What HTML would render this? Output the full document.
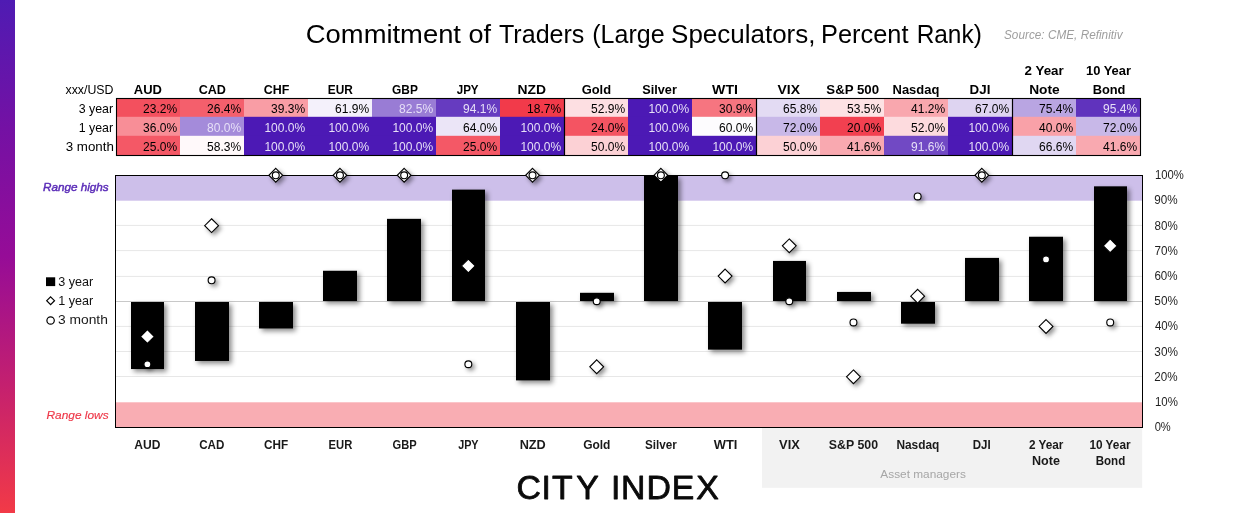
<!DOCTYPE html>
<html lang="en"><head><meta charset="utf-8"><title>Commitment of Traders (Large Speculators, Percent Rank)</title>
<style>html,body{margin:0;padding:0;background:#fff}body{width:1240px;height:513px;overflow:hidden}svg{display:block}text{font-family:"Liberation Sans", sans-serif}</style>
</head><body>
<svg width="1240" height="513" viewBox="0 0 1240 513">
<defs>
<linearGradient id="lg" x1="0" y1="0" x2="0" y2="1"><stop offset="0" stop-color="#4f1bb3"/><stop offset="0.25" stop-color="#7411a4"/><stop offset="0.5" stop-color="#960c97"/><stop offset="0.75" stop-color="#c4206f"/><stop offset="1" stop-color="#f23a47"/></linearGradient>
<filter id="sh" x="-30%" y="-30%" width="170%" height="170%"><feDropShadow dx="2.7" dy="2.7" stdDeviation="2.5" flood-color="#000" flood-opacity="0.46"/></filter>
<filter id="shm" x="-50%" y="-50%" width="220%" height="220%"><feDropShadow dx="2.5" dy="2.5" stdDeviation="2.1" flood-color="#000" flood-opacity="0.42"/></filter>
</defs>
<rect x="0" y="0" width="1240" height="513" fill="#fff"/>
<rect x="0" y="0" width="15" height="513" fill="url(#lg)"/>
<rect x="116.00" y="98.50" width="64.00" height="18.90" fill="#f3505e"/>
<rect x="180.00" y="98.50" width="64.00" height="18.90" fill="#f45f6c"/>
<rect x="244.00" y="98.50" width="64.00" height="18.90" fill="#f99da5"/>
<rect x="308.00" y="98.50" width="64.00" height="18.90" fill="#f4f1fb"/>
<rect x="372.00" y="98.50" width="64.00" height="18.90" fill="#997cd5"/>
<rect x="436.00" y="98.50" width="64.00" height="18.90" fill="#663bc0"/>
<rect x="500.00" y="98.50" width="64.00" height="18.90" fill="#f23a4a"/>
<rect x="564.00" y="98.50" width="64.00" height="18.90" fill="#fddfe2"/>
<rect x="628.00" y="98.50" width="64.00" height="18.90" fill="#4c19b5"/>
<rect x="692.00" y="98.50" width="64.00" height="18.90" fill="#f67580"/>
<rect x="756.00" y="98.50" width="64.00" height="18.90" fill="#e3dbf3"/>
<rect x="820.00" y="98.50" width="64.00" height="18.90" fill="#fde2e4"/>
<rect x="884.00" y="98.50" width="64.00" height="18.90" fill="#f9a7ae"/>
<rect x="948.00" y="98.50" width="64.00" height="18.90" fill="#ded4f1"/>
<rect x="1012.00" y="98.50" width="64.00" height="18.90" fill="#b9a5e2"/>
<rect x="1076.00" y="98.50" width="64.00" height="18.90" fill="#6033bd"/>
<rect x="116.00" y="116.80" width="64.00" height="19.60" fill="#f88e97"/>
<rect x="180.00" y="116.80" width="64.00" height="19.60" fill="#a48bda"/>
<rect x="244.00" y="116.80" width="64.00" height="19.60" fill="#4c19b5"/>
<rect x="308.00" y="116.80" width="64.00" height="19.60" fill="#4c19b5"/>
<rect x="372.00" y="116.80" width="64.00" height="19.60" fill="#4c19b5"/>
<rect x="436.00" y="116.80" width="64.00" height="19.60" fill="#ebe5f7"/>
<rect x="500.00" y="116.80" width="64.00" height="19.60" fill="#4c19b5"/>
<rect x="564.00" y="116.80" width="64.00" height="19.60" fill="#f45462"/>
<rect x="628.00" y="116.80" width="64.00" height="19.60" fill="#4c19b5"/>
<rect x="692.00" y="116.80" width="64.00" height="19.60" fill="#fdfcfe"/>
<rect x="756.00" y="116.80" width="64.00" height="19.60" fill="#c8b8e8"/>
<rect x="820.00" y="116.80" width="64.00" height="19.60" fill="#f24050"/>
<rect x="884.00" y="116.80" width="64.00" height="19.60" fill="#fddbde"/>
<rect x="948.00" y="116.80" width="64.00" height="19.60" fill="#4c19b5"/>
<rect x="1012.00" y="116.80" width="64.00" height="19.60" fill="#f9a1a8"/>
<rect x="1076.00" y="116.80" width="64.00" height="19.60" fill="#c8b8e8"/>
<rect x="116.00" y="135.80" width="64.00" height="19.70" fill="#f45866"/>
<rect x="180.00" y="135.80" width="64.00" height="19.70" fill="#fff9fa"/>
<rect x="244.00" y="135.80" width="64.00" height="19.70" fill="#4c19b5"/>
<rect x="308.00" y="135.80" width="64.00" height="19.70" fill="#4c19b5"/>
<rect x="372.00" y="135.80" width="64.00" height="19.70" fill="#4c19b5"/>
<rect x="436.00" y="135.80" width="64.00" height="19.70" fill="#f45866"/>
<rect x="500.00" y="135.80" width="64.00" height="19.70" fill="#4c19b5"/>
<rect x="564.00" y="135.80" width="64.00" height="19.70" fill="#fcd1d5"/>
<rect x="628.00" y="135.80" width="64.00" height="19.70" fill="#4c19b5"/>
<rect x="692.00" y="135.80" width="64.00" height="19.70" fill="#4c19b5"/>
<rect x="756.00" y="135.80" width="64.00" height="19.70" fill="#fcd1d5"/>
<rect x="820.00" y="135.80" width="64.00" height="19.70" fill="#f9a9b0"/>
<rect x="884.00" y="135.80" width="64.00" height="19.70" fill="#7149c4"/>
<rect x="948.00" y="135.80" width="64.00" height="19.70" fill="#4c19b5"/>
<rect x="1012.00" y="135.80" width="64.00" height="19.70" fill="#e0d7f2"/>
<rect x="1076.00" y="135.80" width="64.00" height="19.70" fill="#f9a9b0"/>
<rect x="116.50" y="98.50" width="1024.00" height="57.00" fill="none" stroke="#000" stroke-width="1.1"/>
<line x1="564.50" y1="98.50" x2="564.50" y2="155.50" stroke="#000" stroke-width="1.2"/>
<line x1="756.50" y1="98.50" x2="756.50" y2="155.50" stroke="#000" stroke-width="1.2"/>
<line x1="1012.50" y1="98.50" x2="1012.50" y2="155.50" stroke="#000" stroke-width="1.2"/>
<text x="177.10" y="112.6" font-size="12" text-anchor="end" fill="#000">23.2%</text>
<text x="241.10" y="112.6" font-size="12" text-anchor="end" fill="#000">26.4%</text>
<text x="305.10" y="112.6" font-size="12" text-anchor="end" fill="#000">39.3%</text>
<text x="369.10" y="112.6" font-size="12" text-anchor="end" fill="#000">61.9%</text>
<text x="433.10" y="112.6" font-size="12" text-anchor="end" fill="#e6dff7">82.5%</text>
<text x="497.10" y="112.6" font-size="12" text-anchor="end" fill="#e6dff7">94.1%</text>
<text x="561.10" y="112.6" font-size="12" text-anchor="end" fill="#000">18.7%</text>
<text x="625.10" y="112.6" font-size="12" text-anchor="end" fill="#000">52.9%</text>
<text x="689.10" y="112.6" font-size="12" text-anchor="end" fill="#e6dff7">100.0%</text>
<text x="753.10" y="112.6" font-size="12" text-anchor="end" fill="#000">30.9%</text>
<text x="817.10" y="112.6" font-size="12" text-anchor="end" fill="#000">65.8%</text>
<text x="881.10" y="112.6" font-size="12" text-anchor="end" fill="#000">53.5%</text>
<text x="945.10" y="112.6" font-size="12" text-anchor="end" fill="#000">41.2%</text>
<text x="1009.10" y="112.6" font-size="12" text-anchor="end" fill="#000">67.0%</text>
<text x="1073.10" y="112.6" font-size="12" text-anchor="end" fill="#000">75.4%</text>
<text x="1137.10" y="112.6" font-size="12" text-anchor="end" fill="#e6dff7">95.4%</text>
<text x="177.10" y="131.5" font-size="12" text-anchor="end" fill="#000">36.0%</text>
<text x="241.10" y="131.5" font-size="12" text-anchor="end" fill="#e6dff7">80.0%</text>
<text x="305.10" y="131.5" font-size="12" text-anchor="end" fill="#e6dff7">100.0%</text>
<text x="369.10" y="131.5" font-size="12" text-anchor="end" fill="#e6dff7">100.0%</text>
<text x="433.10" y="131.5" font-size="12" text-anchor="end" fill="#e6dff7">100.0%</text>
<text x="497.10" y="131.5" font-size="12" text-anchor="end" fill="#000">64.0%</text>
<text x="561.10" y="131.5" font-size="12" text-anchor="end" fill="#e6dff7">100.0%</text>
<text x="625.10" y="131.5" font-size="12" text-anchor="end" fill="#000">24.0%</text>
<text x="689.10" y="131.5" font-size="12" text-anchor="end" fill="#e6dff7">100.0%</text>
<text x="753.10" y="131.5" font-size="12" text-anchor="end" fill="#000">60.0%</text>
<text x="817.10" y="131.5" font-size="12" text-anchor="end" fill="#000">72.0%</text>
<text x="881.10" y="131.5" font-size="12" text-anchor="end" fill="#000">20.0%</text>
<text x="945.10" y="131.5" font-size="12" text-anchor="end" fill="#000">52.0%</text>
<text x="1009.10" y="131.5" font-size="12" text-anchor="end" fill="#e6dff7">100.0%</text>
<text x="1073.10" y="131.5" font-size="12" text-anchor="end" fill="#000">40.0%</text>
<text x="1137.10" y="131.5" font-size="12" text-anchor="end" fill="#000">72.0%</text>
<text x="177.10" y="150.5" font-size="12" text-anchor="end" fill="#000">25.0%</text>
<text x="241.10" y="150.5" font-size="12" text-anchor="end" fill="#000">58.3%</text>
<text x="305.10" y="150.5" font-size="12" text-anchor="end" fill="#e6dff7">100.0%</text>
<text x="369.10" y="150.5" font-size="12" text-anchor="end" fill="#e6dff7">100.0%</text>
<text x="433.10" y="150.5" font-size="12" text-anchor="end" fill="#e6dff7">100.0%</text>
<text x="497.10" y="150.5" font-size="12" text-anchor="end" fill="#000">25.0%</text>
<text x="561.10" y="150.5" font-size="12" text-anchor="end" fill="#e6dff7">100.0%</text>
<text x="625.10" y="150.5" font-size="12" text-anchor="end" fill="#000">50.0%</text>
<text x="689.10" y="150.5" font-size="12" text-anchor="end" fill="#e6dff7">100.0%</text>
<text x="753.10" y="150.5" font-size="12" text-anchor="end" fill="#e6dff7">100.0%</text>
<text x="817.10" y="150.5" font-size="12" text-anchor="end" fill="#000">50.0%</text>
<text x="881.10" y="150.5" font-size="12" text-anchor="end" fill="#000">41.6%</text>
<text x="945.10" y="150.5" font-size="12" text-anchor="end" fill="#e6dff7">91.6%</text>
<text x="1009.10" y="150.5" font-size="12" text-anchor="end" fill="#e6dff7">100.0%</text>
<text x="1073.10" y="150.5" font-size="12" text-anchor="end" fill="#000">66.6%</text>
<text x="1137.10" y="150.5" font-size="12" text-anchor="end" fill="#000">41.6%</text>
<text x="113.1" y="112.6" font-size="12.4" text-anchor="end" fill="#000">3 year</text>
<text x="113.1" y="131.5" font-size="12.4" text-anchor="end" fill="#000">1 year</text>
<rect x="115.50" y="175.50" width="1027.00" height="25.20" fill="#cdbfea"/>
<rect x="115.50" y="402.30" width="1027.00" height="25.20" fill="#f9adb3"/>
<rect x="762" y="428" width="380.2" height="59.8" fill="#f2f2f2"/>
<line x1="115.50" y1="376.50" x2="1142.50" y2="376.50" stroke="#e7e7e7" stroke-width="1"/>
<line x1="115.50" y1="351.50" x2="1142.50" y2="351.50" stroke="#e7e7e7" stroke-width="1"/>
<line x1="115.50" y1="326.40" x2="1142.50" y2="326.40" stroke="#e7e7e7" stroke-width="1"/>
<line x1="115.50" y1="276.40" x2="1142.50" y2="276.40" stroke="#e7e7e7" stroke-width="1"/>
<line x1="115.50" y1="250.60" x2="1142.50" y2="250.60" stroke="#e7e7e7" stroke-width="1"/>
<line x1="115.50" y1="225.40" x2="1142.50" y2="225.40" stroke="#e7e7e7" stroke-width="1"/>
<line x1="115.50" y1="301.50" x2="1142.50" y2="301.50" stroke="#c8c8c8" stroke-width="1"/>
<rect x="115.50" y="175.50" width="1027.00" height="252.00" fill="none" stroke="#000" stroke-width="1"/>
<g fill="#000" filter="url(#sh)">
<rect x="131" y="302.00" width="33" height="67.04"/>
<rect x="195" y="302.00" width="34" height="58.97"/>
<rect x="259" y="302.00" width="34" height="26.46"/>
<rect x="323" y="270.76" width="34" height="30.24"/>
<rect x="387" y="218.85" width="34" height="82.15"/>
<rect x="452" y="189.62" width="33" height="111.38"/>
<rect x="516" y="302.00" width="34" height="78.38"/>
<rect x="580" y="292.80" width="34" height="8.20"/>
<rect x="644" y="175.50" width="34" height="125.50"/>
<rect x="708" y="302.00" width="34" height="47.63"/>
<rect x="773" y="260.93" width="33" height="40.07"/>
<rect x="837" y="291.93" width="34" height="9.07"/>
<rect x="901" y="302.00" width="34" height="21.68"/>
<rect x="965" y="257.91" width="34" height="43.09"/>
<rect x="1029" y="236.74" width="34" height="64.26"/>
<rect x="1094" y="186.34" width="33" height="114.66"/>
</g>
<g fill="#fff" stroke="#000" stroke-width="1.1" filter="url(#shm)">
<path d="M147.40 329.63L154.30 336.53L147.40 343.43L140.50 336.53Z"/>
<path d="M211.59 218.75L218.49 225.65L211.59 232.55L204.69 225.65Z"/>
<path d="M275.77 168.35L282.67 175.25L275.77 182.15L268.88 175.25Z"/>
<path d="M339.96 168.35L346.86 175.25L339.96 182.15L333.06 175.25Z"/>
<path d="M404.15 168.35L411.05 175.25L404.15 182.15L397.25 175.25Z"/>
<path d="M468.34 259.07L475.24 265.97L468.34 272.87L461.44 265.97Z"/>
<path d="M532.52 168.35L539.42 175.25L532.52 182.15L525.62 175.25Z"/>
<path d="M596.71 359.87L603.61 366.77L596.71 373.67L589.81 366.77Z"/>
<path d="M660.90 168.35L667.80 175.25L660.90 182.15L654.00 175.25Z"/>
<path d="M725.09 269.15L731.99 276.05L725.09 282.95L718.19 276.05Z"/>
<path d="M789.27 238.91L796.17 245.81L789.27 252.71L782.38 245.81Z"/>
<path d="M853.46 369.95L860.36 376.85L853.46 383.75L846.56 376.85Z"/>
<path d="M917.65 289.31L924.55 296.21L917.65 303.11L910.75 296.21Z"/>
<path d="M981.84 168.35L988.74 175.25L981.84 182.15L974.94 175.25Z"/>
<path d="M1046.03 319.55L1052.93 326.45L1046.03 333.35L1039.12 326.45Z"/>
<path d="M1110.21 238.91L1117.11 245.81L1110.21 252.71L1103.31 245.81Z"/>
</g>
<g fill="#fff" stroke="#000" stroke-width="1.15" filter="url(#shm)">
<circle cx="147.40" cy="364.25" r="3.45"/>
<circle cx="211.59" cy="280.33" r="3.45"/>
<circle cx="468.34" cy="364.25" r="3.45"/>
<circle cx="596.71" cy="301.25" r="3.45"/>
<circle cx="725.09" cy="175.25" r="3.45"/>
<circle cx="789.27" cy="301.25" r="3.45"/>
<circle cx="853.46" cy="322.42" r="3.45"/>
<circle cx="917.65" cy="196.42" r="3.45"/>
<circle cx="1046.03" cy="259.42" r="3.45"/>
<circle cx="1110.21" cy="322.42" r="3.45"/>
</g>
<g fill="#fff" stroke="#000" stroke-width="1.15">
<circle cx="275.77" cy="175.25" r="3.45"/>
<circle cx="339.96" cy="175.25" r="3.45"/>
<circle cx="404.15" cy="175.25" r="3.45"/>
<circle cx="532.52" cy="175.25" r="3.45"/>
<circle cx="660.90" cy="175.25" r="3.45"/>
<circle cx="981.84" cy="175.25" r="3.45"/>
</g>
<rect x="46" y="277.3" width="9.2" height="8.8" fill="#000"/>
<path d="M50.6 296.8L54.5 300.7L50.6 304.6L46.7 300.7Z" fill="#fff" stroke="#000" stroke-width="1.2"/>
<circle cx="50.6" cy="320.5" r="3.7" fill="#fff" stroke="#000" stroke-width="1.2"/>
<text x="58.3" y="285.8" font-size="12.6" fill="#111">3 year</text>
<text x="58.3" y="304.5" font-size="12.6" fill="#111">1 year</text>
<text x="528.7 546.3 562.3 587.5 600.0 615.6 633.1 658.6 682.9 707.4" y="499.4" font-size="33.8" text-anchor="middle" fill="#0a0a0a" stroke="#0a0a0a" stroke-width="0.8" stroke-linejoin="round">CITY INDEX</text>
<text y="42.70" font-size="26.1" fill="#000"><tspan x="305.87" textLength="155.10" lengthAdjust="spacingAndGlyphs">Commitment</tspan> <tspan x="468.50" textLength="22.57" lengthAdjust="spacingAndGlyphs">of</tspan> <tspan x="498.97" textLength="85.41" lengthAdjust="spacingAndGlyphs">Traders</tspan> <tspan x="592.25" textLength="72.31" lengthAdjust="spacingAndGlyphs">(Large</tspan> <tspan x="671.11" textLength="144.30" lengthAdjust="spacingAndGlyphs">Speculators,</tspan> <tspan x="821.12" textLength="87.34" lengthAdjust="spacingAndGlyphs">Percent</tspan> <tspan x="916.65" textLength="65.16" lengthAdjust="spacingAndGlyphs">Rank)</tspan></text>
<text x="1004.01" y="39.00" font-size="12.3" fill="#9e9e9e" font-style="italic" textLength="118.56" lengthAdjust="spacingAndGlyphs">Source: CME, Refinitiv</text>
<text x="42.96" y="191.00" font-size="11.6" fill="#5b2db8" font-style="italic" stroke="#5b2db8" stroke-width="0.45" textLength="65.72" lengthAdjust="spacingAndGlyphs">Range highs</text>
<text x="46.47" y="418.80" font-size="11.6" fill="#ee3748" font-style="italic" stroke="#ee3748" stroke-width="0.15" textLength="62.16" lengthAdjust="spacingAndGlyphs">Range lows</text>
<text x="880.34" y="477.80" font-size="11.0" fill="#a6a6a6" textLength="85.54" lengthAdjust="spacingAndGlyphs">Asset managers</text>
<text x="57.99" y="323.60" font-size="12.4" fill="#1a1a1a" textLength="49.91" lengthAdjust="spacingAndGlyphs">3 month</text>
<text x="65.72" y="150.50" font-size="12.2" fill="#000" textLength="48.21" lengthAdjust="spacingAndGlyphs">3 month</text>
<text x="65.46" y="93.80" font-size="12.2" fill="#000" textLength="48.06" lengthAdjust="spacingAndGlyphs">xxx/USD</text>
<text x="134.28" y="449.10" font-size="12" fill="#1a1a1a" font-weight="bold" textLength="26.15" lengthAdjust="spacingAndGlyphs">AUD</text>
<text x="199.16" y="449.10" font-size="12" fill="#1a1a1a" font-weight="bold" textLength="25.18" lengthAdjust="spacingAndGlyphs">CAD</text>
<text x="264.08" y="449.10" font-size="12" fill="#1a1a1a" font-weight="bold" textLength="24.17" lengthAdjust="spacingAndGlyphs">CHF</text>
<text x="328.59" y="449.10" font-size="12" fill="#1a1a1a" font-weight="bold" textLength="23.70" lengthAdjust="spacingAndGlyphs">EUR</text>
<text x="392.57" y="449.10" font-size="12" fill="#1a1a1a" font-weight="bold" textLength="24.12" lengthAdjust="spacingAndGlyphs">GBP</text>
<text x="458.14" y="449.10" font-size="12" fill="#1a1a1a" font-weight="bold" textLength="20.43" lengthAdjust="spacingAndGlyphs">JPY</text>
<text x="519.68" y="449.10" font-size="12" fill="#1a1a1a" font-weight="bold" textLength="26.13" lengthAdjust="spacingAndGlyphs">NZD</text>
<text x="583.13" y="449.10" font-size="12" fill="#1a1a1a" font-weight="bold" textLength="27.28" lengthAdjust="spacingAndGlyphs">Gold</text>
<text x="645.04" y="449.10" font-size="12" fill="#1a1a1a" font-weight="bold" textLength="31.83" lengthAdjust="spacingAndGlyphs">Silver</text>
<text x="713.69" y="449.10" font-size="12" fill="#1a1a1a" font-weight="bold" textLength="23.70" lengthAdjust="spacingAndGlyphs">WTI</text>
<text x="779.07" y="449.10" font-size="12" fill="#1a1a1a" font-weight="bold" textLength="20.71" lengthAdjust="spacingAndGlyphs">VIX</text>
<text x="828.87" y="449.10" font-size="12" fill="#1a1a1a" font-weight="bold" textLength="49.14" lengthAdjust="spacingAndGlyphs">S&amp;P 500</text>
<text x="896.41" y="449.10" font-size="12" fill="#1a1a1a" font-weight="bold" textLength="42.98" lengthAdjust="spacingAndGlyphs">Nasdaq</text>
<text x="972.72" y="449.10" font-size="12" fill="#1a1a1a" font-weight="bold" textLength="17.94" lengthAdjust="spacingAndGlyphs">DJI</text>
<text x="1028.89" y="449.10" font-size="12" fill="#1a1a1a" font-weight="bold" textLength="34.52" lengthAdjust="spacingAndGlyphs">2 Year</text>
<text x="1089.39" y="449.10" font-size="12" fill="#1a1a1a" font-weight="bold" textLength="41.20" lengthAdjust="spacingAndGlyphs">10 Year</text>
<text x="1031.99" y="464.80" font-size="12" fill="#1a1a1a" font-weight="bold" textLength="27.98" lengthAdjust="spacingAndGlyphs">Note</text>
<text x="1095.68" y="464.80" font-size="12" fill="#1a1a1a" font-weight="bold" textLength="29.54" lengthAdjust="spacingAndGlyphs">Bond</text>
<text x="133.87" y="93.70" font-size="13.0" fill="#000" font-weight="bold" textLength="28.12" lengthAdjust="spacingAndGlyphs">AUD</text>
<text x="198.67" y="93.70" font-size="13.0" fill="#000" font-weight="bold" textLength="27.29" lengthAdjust="spacingAndGlyphs">CAD</text>
<text x="263.71" y="93.70" font-size="13.0" fill="#000" font-weight="bold" textLength="25.60" lengthAdjust="spacingAndGlyphs">CHF</text>
<text x="327.82" y="93.70" font-size="13.0" fill="#000" font-weight="bold" textLength="25.03" lengthAdjust="spacingAndGlyphs">EUR</text>
<text x="392.08" y="93.70" font-size="13.0" fill="#000" font-weight="bold" textLength="25.80" lengthAdjust="spacingAndGlyphs">GBP</text>
<text x="456.71" y="93.70" font-size="13.0" fill="#000" font-weight="bold" textLength="21.87" lengthAdjust="spacingAndGlyphs">JPY</text>
<text x="517.51" y="93.70" font-size="13.0" fill="#000" font-weight="bold" textLength="28.46" lengthAdjust="spacingAndGlyphs">NZD</text>
<text x="581.63" y="93.70" font-size="13.0" fill="#000" font-weight="bold" textLength="29.41" lengthAdjust="spacingAndGlyphs">Gold</text>
<text x="642.25" y="93.70" font-size="13.0" fill="#000" font-weight="bold" textLength="34.60" lengthAdjust="spacingAndGlyphs">Silver</text>
<text x="712.12" y="93.70" font-size="13.0" fill="#000" font-weight="bold" textLength="25.79" lengthAdjust="spacingAndGlyphs">WTI</text>
<text x="777.48" y="93.70" font-size="13.0" fill="#000" font-weight="bold" textLength="22.51" lengthAdjust="spacingAndGlyphs">VIX</text>
<text x="826.35" y="93.70" font-size="13.0" fill="#000" font-weight="bold" textLength="52.72" lengthAdjust="spacingAndGlyphs">S&amp;P 500</text>
<text x="892.55" y="93.70" font-size="13.0" fill="#000" font-weight="bold" textLength="46.78" lengthAdjust="spacingAndGlyphs">Nasdaq</text>
<text x="969.63" y="93.70" font-size="13.0" fill="#000" font-weight="bold" textLength="20.74" lengthAdjust="spacingAndGlyphs">DJI</text>
<text x="1029.15" y="93.70" font-size="13.0" fill="#000" font-weight="bold" textLength="30.55" lengthAdjust="spacingAndGlyphs">Note</text>
<text x="1092.64" y="93.70" font-size="13.0" fill="#000" font-weight="bold" textLength="32.80" lengthAdjust="spacingAndGlyphs">Bond</text>
<text x="1024.64" y="74.80" font-size="13.0" fill="#000" font-weight="bold" textLength="39.09" lengthAdjust="spacingAndGlyphs">2 Year</text>
<text x="1085.95" y="74.80" font-size="13.0" fill="#000" font-weight="bold" textLength="45.06" lengthAdjust="spacingAndGlyphs">10 Year</text>
<text x="1154.64" y="431.10" font-size="12" fill="#1f1f1f" textLength="16.09" lengthAdjust="spacingAndGlyphs">0%</text>
<text x="1154.94" y="405.90" font-size="12" fill="#1f1f1f" textLength="22.95" lengthAdjust="spacingAndGlyphs">10%</text>
<text x="1154.36" y="380.70" font-size="12" fill="#1f1f1f" textLength="23.29" lengthAdjust="spacingAndGlyphs">20%</text>
<text x="1154.33" y="355.50" font-size="12" fill="#1f1f1f" textLength="23.64" lengthAdjust="spacingAndGlyphs">30%</text>
<text x="1154.88" y="330.30" font-size="12" fill="#1f1f1f" textLength="23.05" lengthAdjust="spacingAndGlyphs">40%</text>
<text x="1154.36" y="305.10" font-size="12" fill="#1f1f1f" textLength="23.55" lengthAdjust="spacingAndGlyphs">50%</text>
<text x="1154.42" y="279.90" font-size="12" fill="#1f1f1f" textLength="23.19" lengthAdjust="spacingAndGlyphs">60%</text>
<text x="1154.41" y="254.70" font-size="12" fill="#1f1f1f" textLength="23.37" lengthAdjust="spacingAndGlyphs">70%</text>
<text x="1154.59" y="229.50" font-size="12" fill="#1f1f1f" textLength="23.17" lengthAdjust="spacingAndGlyphs">80%</text>
<text x="1154.35" y="204.30" font-size="12" fill="#1f1f1f" textLength="23.37" lengthAdjust="spacingAndGlyphs">90%</text>
<text x="1154.97" y="179.10" font-size="12" fill="#1f1f1f" textLength="28.87" lengthAdjust="spacingAndGlyphs">100%</text>
</svg>
</body></html>
